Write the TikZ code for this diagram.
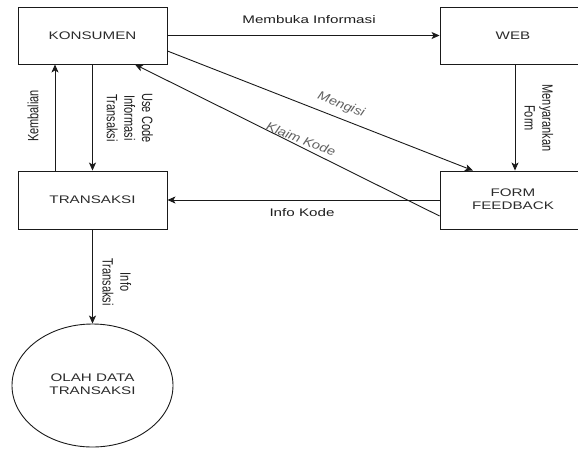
\documentclass[tikz,border=0pt]{standalone}
\usepackage{fontspec}
\usepackage{graphicx}
\setmainfont{Liberation Sans}
\usetikzlibrary{shapes.geometric,arrows.meta}
\definecolor{boxtext}{HTML}{2B2B2B}
\definecolor{lbltext}{HTML}{1E1E1E}
\definecolor{softlbl}{HTML}{606060}
\definecolor{linec}{HTML}{1A1A1A}
\newcommand{\hs}[1]{\scalebox{1.38}[1]{#1}}
\newcommand{\vs}[1]{\scalebox{1}[1.36]{#1}}
\newcommand{\ds}[1]{\scalebox{1.3}[1.1]{#1}}
\newcommand{\twol}[2]{\begin{tabular}{@{}c@{}}#1\\#2\end{tabular}}
\newcommand{\threel}[3]{\begin{tabular}{@{}c@{}}#1\\#2\\#3\end{tabular}}
\begin{document}
\begin{tikzpicture}[x=1pt,y=-1pt,
  font=\fontsize{11}{13}\selectfont,
  entity/.style={draw=linec, line width=0.9pt, rectangle, inner sep=0pt, text=boxtext},
  proc/.style={draw=linec, line width=0.9pt, ellipse, inner sep=0pt, text=boxtext,
    minimum width=161pt, minimum height=123pt},
  flow/.style={draw=linec, line width=0.9pt, -{Stealth[length=8pt,width=7pt,inset=2pt]}},
  lbl/.style={inner sep=0pt, text=lbltext},
  slbl/.style={inner sep=0pt, text=softlbl, font=\fontsize{11}{13}\selectfont\itshape}]
\useasboundingbox (0,0) rectangle (578,448);
\clip (0,0) rectangle (578,448);

\node[entity, minimum width=149pt, minimum height=57pt] (k) at (92.5,35.5) {\hs{KONSUMEN}};
\node[entity, minimum width=146pt, minimum height=57pt] (w) at (513,35.5) {\hs{WEB}};
\node[entity, minimum width=149pt, minimum height=58pt] (t) at (92.5,200) {\hs{TRANSAKSI}};
\node[entity, minimum width=146pt, minimum height=58pt] (f) at (513,200) {\hs{\twol{FORM}{FEEDBACK}}};
\node[proc] (o) at (92.5,385.5) {\hs{\twol{OLAH DATA}{TRANSAKSI}}};

% connectors
\draw[flow] (k.east) -- (w.west);
\draw[flow] (k.south) -- (t.north);
\draw[flow] ([xshift=-37.5pt]t.north) -- ([xshift=-37.5pt]k.south);
\draw[flow] ([xshift=2pt]w.south) -- ([xshift=2pt]f.north);
\draw[flow] ([yshift=-15.5pt]k.east) -- ([xshift=-40pt]f.north);
\draw[flow] ([yshift=-16pt]f.west) -- ([xshift=42.5pt]k.south);
\draw[flow] (f.west) -- (t.east);
\draw[flow] (t.south) -- (o.north);

% labels
\node[lbl] (l1) at (309,20) {\hs{Membuka Informasi}};
\node[lbl, rotate=90] (l2) at (33,116) {\vs{Kembalian}};
\node[lbl, rotate=-90] (l3) at (128,118) {\vs{\threel{Use Code}{Informasi}{Transaksi}}};
\node[lbl, rotate=-90] (l4) at (537,118) {\vs{\twol{Menyarankan}{Form}}};
\node[slbl, rotate=-21.4] (l5) at (341,105) {\ds{Mengisi}};
\node[slbl, rotate=-21.4] (l6) at (301,139) {\ds{Klaim Kode}};
\node[lbl] (l7) at (302,213) {\hs{Info Kode}};
\node[lbl, rotate=-90] (l8) at (115,282) {\vs{\twol{Info}{Transaksi}}};
\end{tikzpicture}
\end{document}
